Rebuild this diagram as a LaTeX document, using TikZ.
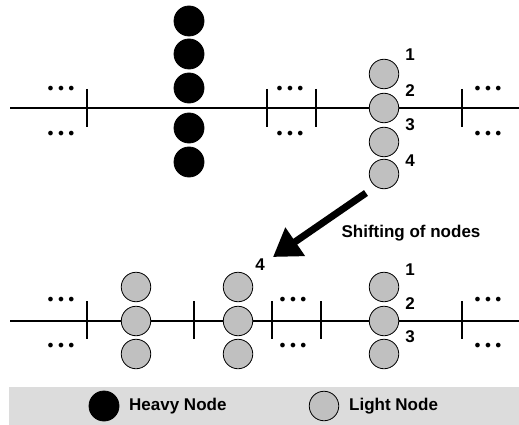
\documentclass[tikz,border=0pt]{standalone}
\usepackage{fontspec}
\setmainfont{Liberation Sans}
\newfontfamily\dotfont{DejaVu Sans}
\usetikzlibrary{arrows.meta}
\definecolor{lightnode}{HTML}{C0C0C0}
\definecolor{legendbg}{HTML}{DCDCDC}
\begin{document}
\begin{tikzpicture}[x=1pt,y=-1pt,
  heavy/.style={circle,fill=black,draw=black,line width=0.8pt,minimum size=30pt,inner sep=0pt},
  light/.style={circle,fill=lightnode,draw=black,line width=0.8pt,minimum size=29.5pt,inner sep=0pt},
  busline/.style={line width=2pt},
  tick/.style={line width=1.6pt},
  lbl/.style={font=\bfseries\fontsize{17}{17}\selectfont,inner sep=0pt},
  dots/.style={font=\dotfont\fontsize{16}{16}\selectfont,inner sep=0pt},
  shiftarrow/.style={line width=7pt,-{Triangle[length=27pt,width=33pt]}}]
\useasboundingbox (0,0) rectangle (519,425);
% top bus
\draw[busline] (10,108) coordinate (tl) -- (519,108) coordinate (tr);
\foreach \x/\n in {87/a,267/b,316/c,462/d}{
  \draw[tick] (\x,89) coordinate (tt\n) -- (\x,127) coordinate (tb\n);}
\foreach \x/\n in {61/a,290/b,488/c}{
  \node[dots] (tdu\n) at (\x,90) {•\kern1pt•\kern1pt•};
  \node[dots] (tdd\n) at (\x,135) {•\kern1pt•\kern1pt•};}
\foreach \y/\n in {21/1,54/2,88/3,128/4,162/5}{
  \node[heavy] (h\n) at (189,\y) {};}
\foreach \y/\n in {74/1,108/2,142/3,174/4}{
  \node[light] (t\n) at (384,\y) {};}
\node[lbl] (tl1) at (410,55) {1};
\node[lbl] (tl2) at (410,91) {2};
\node[lbl] (tl3) at (410,125) {3};
\node[lbl] (tl4) at (410,161) {4};
% arrow
\coordinate (as) at (366,193);
\coordinate (ae) at (273,257);
\draw[shiftarrow] (as) -- (ae);
\node[lbl] (shift) at (411,233) {Shifting of nodes};
% bottom bus
\draw[busline] (10,321) coordinate (bl) -- (519,321) coordinate (br);
\foreach \x/\n in {87/a,194/b,272/c,321/d,462/e}{
  \draw[tick] (\x,301) coordinate (bt\n) -- (\x,339) coordinate (bb\n);}
\foreach \x/\n in {61/a,293/b,488/c}{
  \node[dots] (bdu\n) at (\x,301) {•\kern1pt•\kern1pt•};
  \node[dots] (bdd\n) at (\x,347) {•\kern1pt•\kern1pt•};}
\foreach \x/\c in {136/a,238/b,384/c}{
  \foreach \y/\n in {287/1,321/2,354/3}{
    \node[light] (b\c\n) at (\x,\y) {};}}
\node[lbl] (bl4) at (260,265) {4};
\node[lbl] (bl1) at (410,270) {1};
\node[lbl] (bl2) at (410,304) {2};
\node[lbl] (bl3) at (410,337) {3};
% legend
\fill[legendbg] (9,387) rectangle (519,425);
\node[heavy] (lh) at (104,406) {};
\node[lbl,anchor=west] (lht) at (129,406) {Heavy Node};
\node[light] (ll) at (324,406) {};
\node[lbl,anchor=west] (llt) at (349,406) {Light Node};
\end{tikzpicture}
\end{document}
